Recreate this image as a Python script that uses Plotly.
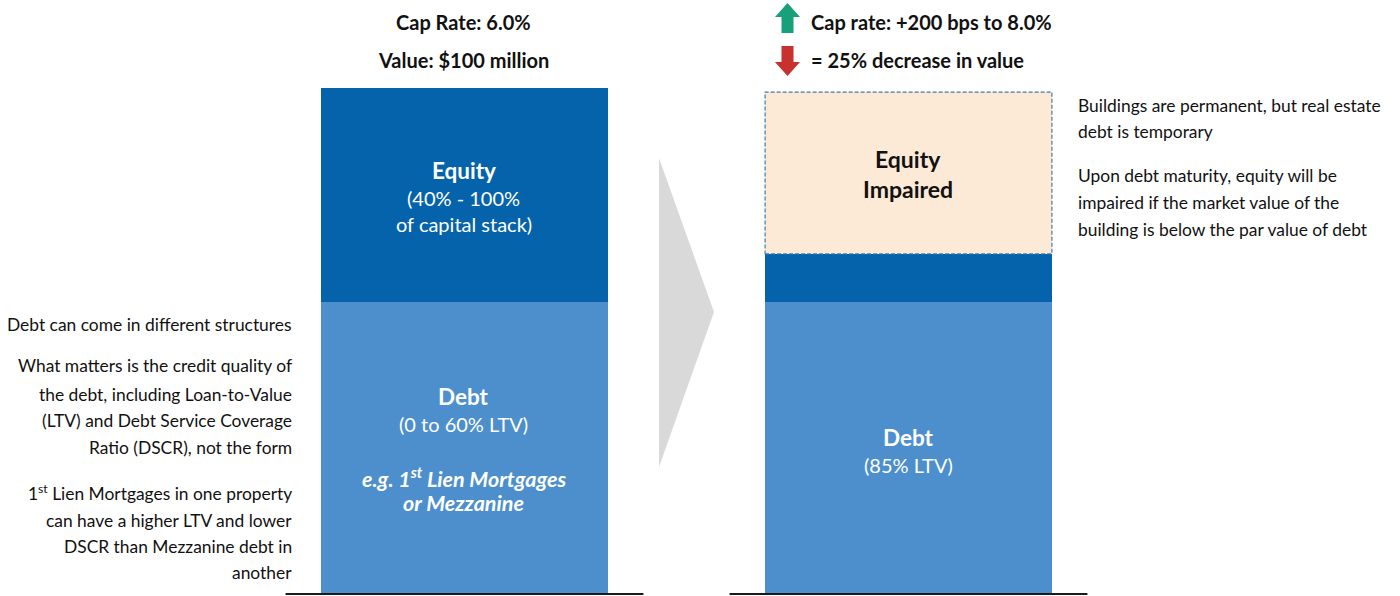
import plotly.graph_objects as go

# ---------------- data ----------------
categories = ["Cap Rate 6.0%", "Cap Rate 8.0%"]
debt = [57.7, 57.7]
equity = [42.3, 9.5]
equity_impaired = [0.0, 32.0]

top_left = ["Cap Rate: 6.0%", "Value: $100 million"]
top_right = ["Cap rate: +200 bps to 8.0%", "= 25% decrease in value"]
left_notes = [
    "Debt can come in different structures",
    "What matters is the credit quality of",
    "the debt, including Loan-to-Value",
    "(LTV) and Debt Service Coverage",
    "Ratio (DSCR), not the form",
    "1<sup>st</sup> Lien Mortgages in one property",
    "can have a higher LTV and lower",
    "DSCR than Mezzanine debt in",
    "another",
]
right_notes = [
    "Buildings are permanent, but real estate",
    "debt is temporary",
    "Upon debt maturity, equity will be",
    "impaired if the market value of the",
    "building is below the par value of debt",
]

# ---------------- style ----------------
W, H = 1400, 596
DARK = "#0563AC"
LIGHT = "#4D8FCD"
PEACH = "#FDEAD6"
FONT = "Lato"

def px(x):
    return x / W

def py(y):
    return 1 - y / H

fig = go.Figure()
fig.add_trace(go.Bar(x=categories, y=debt, marker=dict(color=LIGHT, line=dict(width=0)), name="Debt"))
fig.add_trace(go.Bar(x=categories, y=equity, marker=dict(color=DARK, line=dict(width=0)), name="Equity"))
fig.add_trace(go.Bar(x=categories, y=equity_impaired, marker=dict(color=PEACH, line=dict(width=0)), name="Equity Impaired"))

bar_half = 0.323
# dashed outline of impaired equity
y0 = debt[1] + equity[1]
y1 = y0 + equity_impaired[1]
fig.add_shape(type="rect", xref="x", yref="y", x0=1 - bar_half, x1=1 + bar_half, y0=y0, y1=y1,
              line=dict(color="#3F7BAE", width=1.2, dash="4px,2px"), fillcolor="rgba(0,0,0,0)")

# baselines
for i in range(2):
    fig.add_shape(type="line", xref="x", yref="y", x0=i - 0.403, x1=i + 0.403, y0=0, y1=0,
                  line=dict(color="#1a1a1a", width=2))

# chevron
fig.add_shape(type="path", xref="paper", yref="paper",
              path=f"M {px(659)},{py(158)} L {px(714)},{py(312)} L {px(659)},{py(467)} Z",
              fillcolor="#D9D9D9", line=dict(width=0))

def up_arrow(x0, x1, ytop, ybot, headh, shaft_in):
    xm = (x0 + x1) / 2
    return (f"M {px(xm)},{py(ytop)} L {px(x1)},{py(ytop+headh)} L {px(x1-shaft_in)},{py(ytop+headh)} "
            f"L {px(x1-shaft_in)},{py(ybot)} L {px(x0+shaft_in)},{py(ybot)} L {px(x0+shaft_in)},{py(ytop+headh)} "
            f"L {px(x0)},{py(ytop+headh)} Z")

def down_arrow(x0, x1, ytop, ybot, headh, shaft_in):
    xm = (x0 + x1) / 2
    return (f"M {px(xm)},{py(ybot)} L {px(x1)},{py(ybot-headh)} L {px(x1-shaft_in)},{py(ybot-headh)} "
            f"L {px(x1-shaft_in)},{py(ytop)} L {px(x0+shaft_in)},{py(ytop)} L {px(x0+shaft_in)},{py(ybot-headh)} "
            f"L {px(x0)},{py(ybot-headh)} Z")

fig.add_shape(type="path", xref="paper", yref="paper", path=up_arrow(775, 800, 3, 33, 14, 6.5),
              fillcolor="#17A07A", line=dict(width=0))
fig.add_shape(type="path", xref="paper", yref="paper", path=down_arrow(775, 800, 46, 76, 14, 6.5),
              fillcolor="#C8312D", line=dict(width=0))

def ann(text, x, y, size, color="#111111", bold=False, italic=False, xanchor="center"):
    t = text
    if bold:
        t = f"<b>{t}</b>"
    if italic:
        t = f"<i>{t}</i>"
    fig.add_annotation(text=t, x=px(x), y=py(y), xref="paper", yref="paper", showarrow=False,
                       xanchor=xanchor, yanchor="middle", font=dict(family=FONT, size=size, color=color))

# top headers
ann(top_left[0], 464, 22, 20, bold=True)
ann(top_left[1], 464, 60, 20, bold=True)
ann(top_right[0], 809, 22, 20, bold=True, xanchor="left")
ann(top_right[1], 809, 60, 20, bold=True, xanchor="left")

# left bar labels
ann("Equity", 464, 170, 22.5, color="white", bold=True)
ann("(40% - 100%", 464, 198, 20, color="white")
ann("of capital stack)", 464, 224, 20, color="white")
ann("Debt", 464, 396, 22.5, color="white", bold=True)
ann("(0 to 60% LTV)", 464, 424, 20, color="white")
ann("e.g. 1<sup>st</sup> Lien Mortgages", 464, 477, 21.5, color="white", bold=True, italic=True)
ann("or Mezzanine", 464, 503, 21.5, color="white", bold=True, italic=True)

# right bar labels
ann("Equity", 908, 159, 23, bold=True)
ann("Impaired", 908, 189, 23, bold=True)
ann("Debt", 908, 437, 22.5, color="white", bold=True)
ann("(85% LTV)", 908, 465, 20, color="white")

# side notes
left_y = [324, 366, 394, 420, 447, 492, 520, 546, 572]
for t, y in zip(left_notes, left_y):
    ann(t, 294, y, 17.4, xanchor="right")
right_y = [105, 131, 175, 202, 229]
for t, y in zip(right_notes, right_y):
    ann(t, 1076, y, 17.4, xanchor="left")

fig.update_layout(
    width=W, height=H,
    margin=dict(l=0, r=0, t=0, b=0),
    barmode="stack", bargap=0.354,
    showlegend=False,
    plot_bgcolor="white", paper_bgcolor="white",
    xaxis=dict(range=[-464.5 / 444, (W - 464.5) / 444], visible=False),
    yaxis=dict(range=[-(H - 594) / 5.06, 594 / 5.06], visible=False),
)

fig.write_html("out.html", config={"displayModeBar": False},
               post_script="document.body.style.margin='0';")
